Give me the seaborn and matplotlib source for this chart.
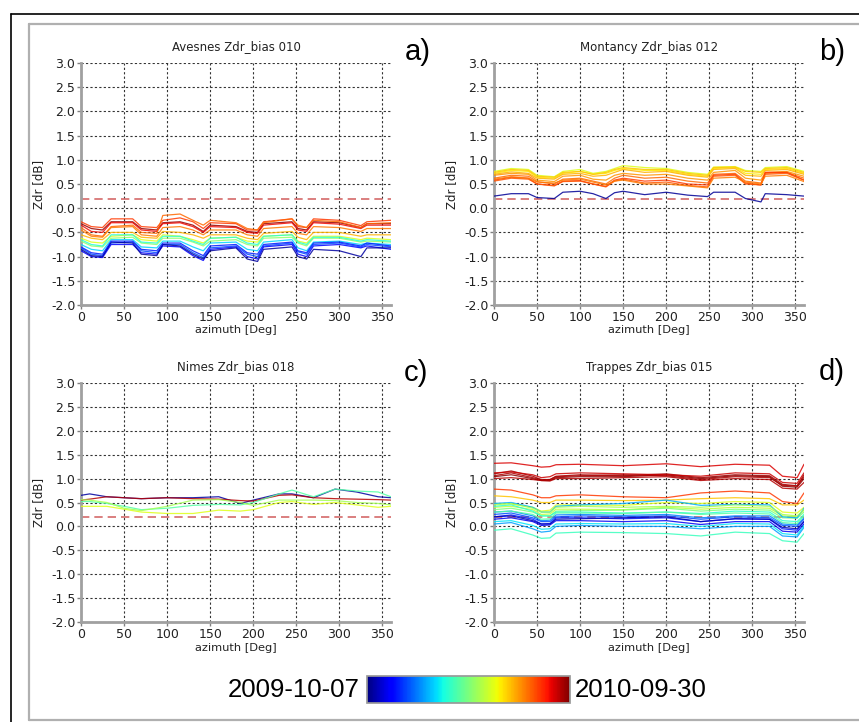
import numpy as np
import pandas as pd
import matplotlib
matplotlib.use("Agg")
import matplotlib.pyplot as plt
from matplotlib.lines import Line2D
import matplotlib.colors as mcolors
import seaborn as sns

# ---------------- data ----------------
TITLES = ["Avesnes Zdr_bias 010", "Montancy Zdr_bias 012", "Nimes Zdr_bias 018", "Trappes Zdr_bias 015"]
PANEL_TAGS = ["a)", "b)", "c)", "d)"]
DATE_START = "2009-10-07"
DATE_END = "2010-09-30"
THRESHOLD = 0.2
YTICKS = [-2.0, -1.5, -1.0, -0.5, 0.0, 0.5, 1.0, 1.5, 2.0, 2.5, 3.0]
XTICKS = [0, 50, 100, 150, 200, 250, 300, 350]

AZ_A = [0, 12, 25, 35, 60, 70, 88, 95, 115, 130, 142, 150, 180, 193, 205, 212, 245, 252, 262, 270, 300, 325, 332, 360]
DATES_A = [0.98, 0.90, 0.85, 0.80, 0.78, 0.72, 0.62, 0.52, 0.40, 0.33, 0.20, 0.12, 0.03, 0.15]
LINES_A = [
    [-0.32,-0.42,-0.45,-0.28,-0.28,-0.42,-0.45,-0.30,-0.28,-0.35,-0.48,-0.35,-0.38,-0.48,-0.50,-0.32,-0.28,-0.42,-0.45,-0.28,-0.30,-0.40,-0.32,-0.32],
    [-0.35,-0.48,-0.50,-0.30,-0.30,-0.45,-0.48,-0.32,-0.30,-0.38,-0.50,-0.38,-0.40,-0.50,-0.52,-0.35,-0.30,-0.45,-0.48,-0.30,-0.33,-0.42,-0.35,-0.35],
    [-0.28,-0.38,-0.40,-0.22,-0.22,-0.38,-0.40,-0.25,-0.20,-0.28,-0.42,-0.30,-0.32,-0.45,-0.45,-0.28,-0.22,-0.38,-0.40,-0.22,-0.25,-0.36,-0.28,-0.25],
    [-0.40,-0.55,-0.58,-0.38,-0.35,-0.50,-0.52,-0.15,-0.12,-0.25,-0.35,-0.25,-0.30,-0.42,-0.45,-0.30,-0.22,-0.35,-0.40,-0.25,-0.28,-0.40,-0.32,-0.30],
    [-0.45,-0.58,-0.60,-0.40,-0.38,-0.55,-0.58,-0.40,-0.38,-0.45,-0.55,-0.45,-0.45,-0.55,-0.58,-0.42,-0.38,-0.52,-0.55,-0.38,-0.40,-0.48,-0.42,-0.42],
    [-0.55,-0.62,-0.65,-0.50,-0.50,-0.60,-0.62,-0.48,-0.50,-0.55,-0.62,-0.55,-0.55,-0.62,-0.65,-0.52,-0.48,-0.60,-0.65,-0.50,-0.50,-0.58,-0.55,-0.55],
    [-0.62,-0.70,-0.72,-0.58,-0.55,-0.65,-0.68,-0.55,-0.58,-0.65,-0.72,-0.62,-0.60,-0.68,-0.70,-0.58,-0.55,-0.68,-0.72,-0.58,-0.58,-0.65,-0.62,-0.65],
    [-0.68,-0.78,-0.80,-0.62,-0.60,-0.72,-0.75,-0.62,-0.62,-0.70,-0.78,-0.68,-0.65,-0.75,-0.78,-0.62,-0.60,-0.72,-0.78,-0.62,-0.62,-0.70,-0.68,-0.70],
    [-0.65,-0.75,-0.78,-0.55,-0.55,-0.70,-0.72,-0.58,-0.58,-0.68,-0.75,-0.62,-0.60,-0.72,-0.75,-0.58,-0.55,-0.70,-0.75,-0.60,-0.60,-0.68,-0.65,-0.68],
    [-0.75,-0.85,-0.88,-0.65,-0.65,-0.80,-0.82,-0.68,-0.68,-0.80,-0.88,-0.72,-0.70,-0.85,-0.88,-0.70,-0.65,-0.82,-0.88,-0.70,-0.68,-0.75,-0.72,-0.75],
    [-0.82,-0.95,-0.98,-0.72,-0.70,-0.88,-0.92,-0.75,-0.75,-0.92,-1.02,-0.82,-0.78,-0.95,-1.00,-0.78,-0.72,-0.90,-0.95,-0.75,-0.72,-0.80,-0.75,-0.80],
    [-0.88,-1.00,-1.02,-0.75,-0.75,-0.92,-0.95,-0.78,-0.80,-0.98,-1.08,-0.85,-0.80,-1.00,-1.05,-0.80,-0.75,-0.95,-1.00,-0.78,-0.75,-0.82,-0.78,-0.85],
    [-0.85,-0.98,-1.00,-0.70,-0.72,-0.95,-0.98,-0.75,-0.78,-0.95,-1.05,-0.88,-0.82,-1.05,-1.10,-0.85,-0.80,-1.00,-1.05,-0.85,-0.88,-1.00,-0.82,-0.82],
    [-0.80,-0.92,-0.95,-0.68,-0.68,-0.85,-0.88,-0.72,-0.72,-0.88,-0.98,-0.78,-0.75,-0.92,-0.95,-0.75,-0.70,-0.88,-0.92,-0.72,-0.70,-0.78,-0.72,-0.78],
]

AZ_B = [0, 20, 40, 50, 70, 80, 100, 115, 130, 140, 150, 175, 200, 225, 248, 255, 280, 292, 310, 315, 340, 360]
DATES_B = [0.02, 0.62, 0.66, 0.72, 0.75, 0.80, 0.85, 0.82, 0.78, 0.70]
LINES_B = [
    [0.25,0.30,0.30,0.22,0.20,0.33,0.35,0.30,0.20,0.32,0.35,0.28,0.33,0.27,0.24,0.33,0.33,0.20,0.13,0.30,0.28,0.25],
    [0.76,0.82,0.80,0.68,0.65,0.76,0.80,0.72,0.76,0.82,0.88,0.84,0.82,0.74,0.70,0.85,0.86,0.78,0.76,0.84,0.86,0.76],
    [0.72,0.78,0.76,0.64,0.62,0.72,0.76,0.70,0.72,0.78,0.82,0.78,0.78,0.70,0.66,0.82,0.84,0.72,0.70,0.80,0.82,0.72],
    [0.70,0.75,0.72,0.62,0.60,0.70,0.72,0.66,0.68,0.74,0.80,0.74,0.76,0.68,0.64,0.80,0.82,0.68,0.66,0.78,0.80,0.70],
    [0.68,0.72,0.70,0.58,0.55,0.66,0.68,0.60,0.58,0.68,0.72,0.68,0.70,0.62,0.58,0.74,0.78,0.62,0.58,0.74,0.76,0.66],
    [0.62,0.68,0.66,0.55,0.50,0.60,0.62,0.56,0.50,0.62,0.68,0.62,0.64,0.56,0.52,0.70,0.72,0.56,0.52,0.72,0.74,0.62],
    [0.58,0.64,0.62,0.50,0.47,0.56,0.57,0.50,0.45,0.58,0.62,0.56,0.58,0.50,0.48,0.68,0.70,0.52,0.48,0.74,0.74,0.58],
    [0.56,0.62,0.60,0.50,0.46,0.55,0.56,0.50,0.44,0.56,0.60,0.52,0.54,0.47,0.44,0.66,0.68,0.50,0.48,0.70,0.72,0.58],
    [0.60,0.65,0.62,0.54,0.52,0.58,0.60,0.54,0.48,0.56,0.58,0.50,0.50,0.46,0.42,0.62,0.64,0.54,0.50,0.66,0.68,0.55],
    [0.74,0.80,0.78,0.66,0.64,0.74,0.76,0.70,0.74,0.80,0.84,0.80,0.80,0.72,0.68,0.84,0.85,0.76,0.74,0.82,0.84,0.74],
]

AZ_C = [0, 10, 30, 50, 70, 100, 130, 160, 185, 200, 230, 245, 270, 295, 320, 345, 360]
DATES_C = [0.03, 0.95, 0.45, 0.62, 0.55]
LINES_C = [
    [0.65,0.68,0.62,0.60,0.58,0.60,0.60,0.62,0.48,0.55,0.68,0.68,0.60,0.78,0.72,0.62,0.60],
    [0.55,0.57,0.62,0.60,0.58,0.60,0.58,0.57,0.54,0.53,0.65,0.66,0.60,0.58,0.57,0.56,0.55],
    [0.52,0.52,0.48,0.42,0.35,0.38,0.44,0.46,0.45,0.50,0.68,0.76,0.62,0.78,0.74,0.72,0.62],
    [0.42,0.42,0.42,0.36,0.30,0.27,0.27,0.34,0.32,0.35,0.50,0.52,0.46,0.50,0.45,0.40,0.42],
    [0.56,0.55,0.50,0.38,0.33,0.42,0.55,0.56,0.50,0.44,0.55,0.55,0.55,0.54,0.50,0.48,0.45],
]

AZ_D = [0, 20, 45, 55, 65, 72, 100, 150, 200, 240, 280, 320, 335, 352, 360]
DATES_D = [0.92, 0.97, 0.99, 0.95, 0.93, 0.96, 0.85, 0.70, 0.62, 0.58, 0.50, 0.40, 0.30,
           0.25, 0.15, 0.10, 0.20, 0.35, 0.42, 0.05, 0.45, 0.55, 0.28]
LINES_D = [
    [1.32,1.33,1.27,1.24,1.25,1.29,1.30,1.27,1.31,1.25,1.30,1.28,1.05,1.02,1.30],
    [1.10,1.16,1.05,0.98,0.98,1.05,1.08,1.06,1.10,1.02,1.08,1.06,0.88,0.85,1.08],
    [1.04,1.08,1.00,0.96,0.96,1.02,1.04,1.04,1.08,1.00,1.06,1.04,0.84,0.82,1.00],
    [1.00,1.02,0.98,0.96,0.95,1.00,1.00,1.02,1.04,0.96,1.00,0.98,0.80,0.78,0.92],
    [1.12,1.14,1.08,1.02,1.04,1.10,1.12,1.10,1.08,1.05,1.12,1.10,0.92,0.90,1.12],
    [1.06,1.12,1.02,0.97,0.98,1.04,1.06,1.08,1.06,0.98,1.04,1.02,0.86,0.84,1.04],
    [0.78,0.76,0.66,0.60,0.60,0.64,0.66,0.62,0.60,0.70,0.74,0.70,0.52,0.48,0.70],
    [0.64,0.62,0.55,0.50,0.50,0.55,0.55,0.54,0.55,0.58,0.60,0.58,0.45,0.45,0.55],
    [0.48,0.47,0.40,0.32,0.34,0.45,0.45,0.44,0.50,0.48,0.52,0.50,0.30,0.28,0.40],
    [0.40,0.42,0.35,0.25,0.26,0.36,0.36,0.35,0.40,0.36,0.40,0.38,0.22,0.20,0.34],
    [0.35,0.38,0.30,0.22,0.22,0.32,0.33,0.34,0.38,0.32,0.36,0.34,0.18,0.17,0.30],
    [0.42,0.45,0.32,0.22,0.22,0.30,0.30,0.28,0.30,0.27,0.32,0.30,0.12,0.10,0.25],
    [0.48,0.50,0.40,0.30,0.30,0.42,0.45,0.48,0.55,0.44,0.46,0.45,0.20,0.18,0.38],
    [0.30,0.32,0.22,0.12,0.13,0.24,0.25,0.23,0.25,0.18,0.22,0.22,0.05,0.03,0.18],
    [0.20,0.24,0.15,0.05,0.06,0.18,0.18,0.16,0.18,0.10,0.16,0.15,-0.05,-0.08,0.10],
    [0.15,0.18,0.10,0.02,0.03,0.12,0.12,0.10,0.12,0.04,0.10,0.10,-0.10,-0.12,0.05],
    [0.25,0.28,0.18,0.10,0.10,0.20,0.22,0.20,0.22,0.15,0.20,0.18,0.02,0.00,0.15],
    [0.10,0.12,0.02,-0.06,-0.05,0.05,0.06,0.05,0.06,0.00,0.06,0.05,-0.15,-0.18,0.02],
    [-0.08,-0.05,-0.18,-0.25,-0.24,-0.14,-0.12,-0.13,-0.15,-0.20,-0.12,-0.15,-0.30,-0.33,-0.15],
    [0.20,0.22,0.12,0.05,0.05,0.15,0.16,0.18,0.20,0.10,0.16,0.15,-0.02,-0.05,0.10],
    [0.30,0.32,0.25,0.15,0.16,0.28,0.28,0.27,0.30,0.25,0.28,0.26,0.08,0.06,0.22],
    [0.45,0.48,0.38,0.30,0.30,0.40,0.42,0.40,0.42,0.40,0.45,0.42,0.25,0.22,0.35],
    [0.05,0.08,-0.05,-0.12,-0.10,0.00,0.02,0.00,0.00,-0.05,0.00,0.00,-0.20,-0.22,-0.02],
]

PANELS = [(AZ_A, DATES_A, LINES_A), (AZ_B, DATES_B, LINES_B),
          (AZ_C, DATES_C, LINES_C), (AZ_D, DATES_D, LINES_D)]

# ---------------- figure ----------------
sns.set_theme(style="white")
plt.rcParams['font.family'] = ['DejaVu Sans']
plt.rcParams['text.color'] = 'black'
W, H = 859, 722
fig = plt.figure(figsize=(W / 100, H / 100), dpi=100)
fig.patch.set_facecolor("white")

def fx(x):
    return x / W

def fy(y):
    return 1 - y / H

# frame lines
fig.add_artist(Line2D([fx(11), fx(859)], [fy(14), fy(14)], color="black", lw=1.2, transform=fig.transFigure))
fig.add_artist(Line2D([fx(11), fx(11)], [fy(14), fy(722)], color="black", lw=1.2, transform=fig.transFigure))
for xs, ys in [([29, 859], [24, 24]), ([29, 29], [24, 720]), ([29, 859], [720, 720])]:
    fig.add_artist(Line2D([fx(xs[0]), fx(xs[1])], [fy(ys[0]), fy(ys[1])], color="#b0b0b0", lw=1.6,
                          transform=fig.transFigure))

cmap = plt.get_cmap("jet")
# axes pixel boxes: (left, top, right, bottom)
boxes = [(81, 63, 391, 305), (494, 63, 804, 305), (81, 383, 391, 622), (494, 383, 804, 622)]
tag_pos = [(418, 52), (832, 52), (416, 373), (832, 372)]
xlabel_y = [330, 330, 648, 648]

for i, (box, (az, dates, lines)) in enumerate(zip(boxes, PANELS)):
    l, t, r, b = box
    ax = fig.add_axes([fx(l), fy(b), (r - l) / W, (b - t) / H])
    rows = []
    palette = {}
    for k, (d, vals) in enumerate(zip(dates, lines)):
        name = f"L{k}"
        palette[name] = cmap(d)
        for a, v in zip(az, vals):
            rows.append({"azimuth": a, "zdr": v, "line": name})
    df = pd.DataFrame(rows)
    sns.lineplot(data=df, x="azimuth", y="zdr", hue="line", palette=palette,
                 estimator=None, sort=False, legend=False, lw=0.9, alpha=0.85, ax=ax, zorder=3)
    ax.axhline(THRESHOLD, color="#d46a6a", lw=1.2, ls=(0, (5, 3)), zorder=2)
    ax.set_xlim(0, 360)
    ax.set_ylim(-2.0, 3.0)
    ax.set_xticks(XTICKS)
    ax.set_yticks(YTICKS)
    ax.set_yticklabels([f"{v:.1f}" for v in YTICKS])
    ax.grid(True, color="#333333", ls=(0, (2, 2)), lw=0.8)
    ax.set_axisbelow(True)
    for s in ["top", "right"]:
        ax.spines[s].set_visible(False)
    for s in ["left", "bottom"]:
        ax.spines[s].set_color("#a0a0a0")
        ax.spines[s].set_linewidth(2.0)
    ax.tick_params(axis="both", which="major", direction="out", length=3, width=1,
                   color="#808080", labelsize=9, pad=1, labelcolor="#222222")
    ax.tick_params(left=True, bottom=True)
    ax.set_xlabel("")
    ax.set_ylabel("Zdr [dB]", fontsize=8.5, labelpad=4, color="#222222")
    ax.set_title(TITLES[i], fontsize=8.5, pad=9, color="#222222")
    fig.text(fx((l + r) / 2), fy(xlabel_y[i]), "azimuth [Deg]", ha="center", va="center", fontsize=8.2,
             color="#222222")
    tx, ty = tag_pos[i]
    fig.text(fx(tx), fy(ty), PANEL_TAGS[i], ha="center", va="center", fontsize=21,
             family="Liberation Sans", color="black")

# colorbar
cax = fig.add_axes([fx(367), fy(703), (570 - 367) / W, (703 - 676) / H])
sm = matplotlib.cm.ScalarMappable(norm=mcolors.Normalize(0, 1), cmap=cmap)
cb = fig.colorbar(sm, cax=cax, orientation="horizontal", ticks=[0.25, 0.5, 0.75])
cb.ax.tick_params(direction="in", length=3, labelbottom=False, color="#888888")
cb.outline.set_edgecolor("#999999")
fig.text(fx(360), fy(690), DATE_START, ha="right", va="center", fontsize=18.5,
         family="Liberation Sans", color="black")
fig.text(fx(575), fy(690), DATE_END, ha="left", va="center", fontsize=18.5,
         family="Liberation Sans", color="black")

fig.savefig("out.png", dpi=100, facecolor="white")
